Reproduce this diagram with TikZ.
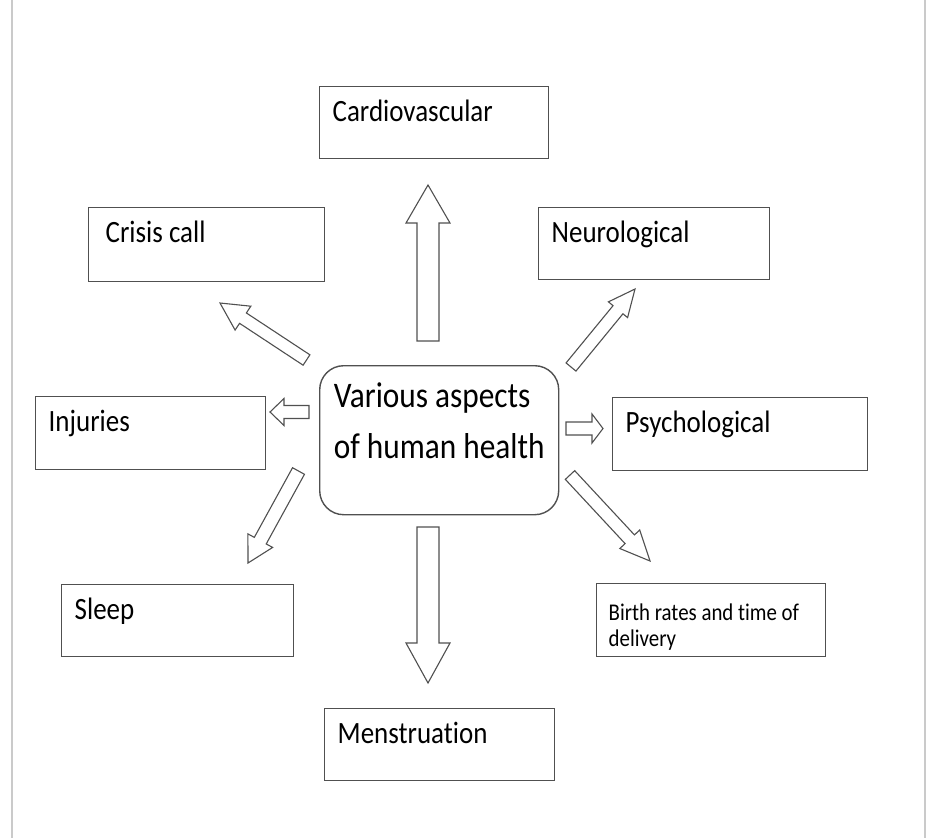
\documentclass[tikz,border=0pt]{standalone}
\usepackage{fontspec}
\setmainfont{Carlito}[Ligatures=NoCommon,FakeStretch=0.87]
\usetikzlibrary{calc}
\definecolor{framegray}{HTML}{505050}
\definecolor{edgegray}{HTML}{CACACA}

% hollow block arrow: tail, tip, half shaft, half head, head length
\newcommand{\hollowarrow}[5]{%
  \coordinate (hb) at ($(#2)!#5!(#1)$);
  \draw[hollow] ($(#1)!#3!90:(#2)$) -- ($(hb)!#3!90:(#2)$) -- ($(hb)!#4!90:(#2)$) -- (#2)
    -- ($(hb)!#4!-90:(#2)$) -- ($(hb)!#3!-90:(#2)$) -- ($(#1)!#3!-90:(#2)$) -- cycle;}

\begin{document}
\begin{tikzpicture}[x=1pt,y=-1pt,
  aspect/.style={draw=framegray,line width=1.4pt,anchor=north west,align=flush left,
    inner xsep=13pt,inner ysep=0pt,text height=35pt,text depth=37pt,
    font=\fontsize{31}{36}\selectfont},
  hollow/.style={draw=framegray,line width=1.1pt,fill=white}]
 \useasboundingbox (0,0) rectangle (928,838);
 \draw[edgegray,line width=1.6pt] (12,0) -- (12,838) (925,0) -- (925,838);
    % centre
    \node[draw=framegray,line width=1.4pt,rounded corners=24pt,anchor=north west,
      minimum width=239pt,inner sep=0pt,text height=93pt,text depth=56pt,
      align=left,font=\fontsize{36}{51}\selectfont] (health) at (319,365)
      {Various aspects\\of human health};
    % aspects
    \node[aspect,text width=203pt] (cardio) at (319,86) {Cardiovascular};
    \node[aspect,text width=202pt,inner xsep=17pt,text depth=39pt] (crisis) at (88,207) {Crisis call};
    \node[aspect,text width=205pt] (neuro) at (538,207) {Neurological};
    \node[aspect,text width=204pt,text depth=38pt] (injury) at (35,396) {Injuries};
    \node[aspect,text width=229pt,text depth=38pt] (psych) at (612,397) {Psychological};
    \node[aspect,text width=206pt] (sleep) at (61,584) {Sleep};
    \node[aspect,text width=205pt,inner xsep=12pt,text height=37pt,text depth=36pt,
      font=\fontsize{24}{26}\selectfont] (birth) at (596,583) {Birth rates and time of delivery};
    \node[aspect,text width=204pt] (menses) at (324,708) {Menstruation};
    % arrow ends
    \coordinate (cardio-tail) at (428,341);   \coordinate (cardio-tip) at (428,185);
    \coordinate (menses-tail) at (428,527);   \coordinate (menses-tip) at (428,683);
    \coordinate (injury-tail) at (309,412);   \coordinate (injury-tip) at (270,412);
    \coordinate (psych-tail) at (566,428.5);  \coordinate (psych-tip) at (603,428.5);
    \coordinate (crisis-tail) at (306.5,360); \coordinate (crisis-tip) at (220,303);
    \coordinate (neuro-tail) at (571,367);    \coordinate (neuro-tip) at (635,289);
    \coordinate (sleep-tail) at (298.5,471);  \coordinate (sleep-tip) at (248,563);
    \coordinate (birth-tail) at (570,475);    \coordinate (birth-tip) at (650,561);
    \foreach \n/\s/\h/\l in {cardio/11/22/38,menses/11/22/40,injury/6.5/13.5/14,
      psych/6.5/14.5/11,crisis/6.2/14.3/27.5,neuro/6.4/12.4/26.8,
      sleep/6.8/14.1/25.5,birth/6.4/13.6/29.7}
      {\hollowarrow{\n-tail}{\n-tip}{\s pt}{\h pt}{\l pt}}
  \end{tikzpicture}
\end{document}
